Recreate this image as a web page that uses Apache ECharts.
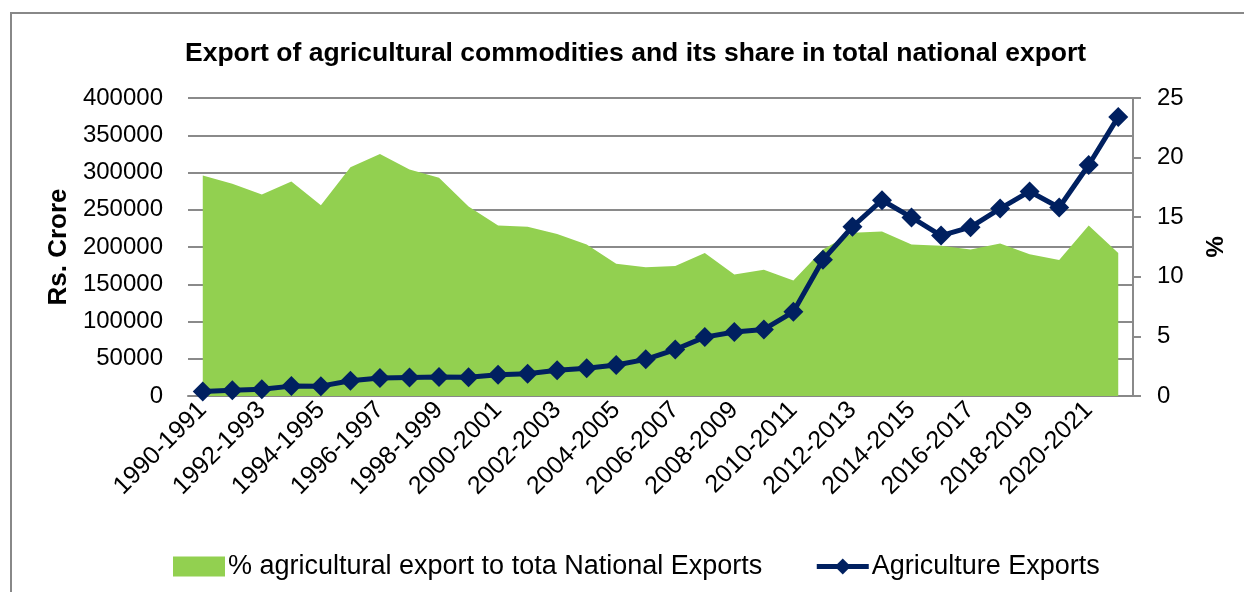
<!DOCTYPE html>
<html>
<head>
<meta charset="utf-8">
<script src="https://cdn.jsdelivr.net/npm/echarts@6/dist/echarts.min.js"></script>
<style>
  html, body { margin: 0; padding: 0; background: #fff; }
  #chart { width: 1244px; height: 592px; }
</style>
</head>
<body>
<div id="chart"></div>
<script>
// fiscal years
const years = [
  '1990-1991', '1991-1992', '1992-1993', '1993-1994', '1994-1995', '1995-1996',
  '1996-1997', '1997-1998', '1998-1999', '1999-2000', '2000-2001', '2001-2002',
  '2002-2003', '2003-2004', '2004-2005', '2005-2006', '2006-2007', '2007-2008',
  '2008-2009', '2009-2010', '2010-2011', '2011-2012', '2012-2013', '2013-2014',
  '2014-2015', '2015-2016', '2016-2017', '2017-2018', '2018-2019', '2019-2020',
  '2020-2021', '2021-2022'
]
// Rs. Crore
const agriExports = [
  6013, 7838, 9040, 13271, 13222, 20398, 24161, 24832, 25511, 25314, 28657, 29729,
  34654, 37266, 41603, 49217, 62411, 79040, 85951, 89341, 113047, 182801, 227192, 262779,
  239681, 215396, 226652, 251564, 274571, 252976, 310130, 374611
]
// % share in total national exports
const agriShare = [
  18.5, 17.8, 16.9, 18.0, 16.0, 19.2, 20.3, 19.0, 18.3, 15.9, 14.3, 14.2,
  13.6, 12.7, 11.1, 10.8, 10.9, 12.0, 10.2, 10.6, 9.7, 12.3, 13.7, 13.8,
  12.7, 12.6, 12.3, 12.8, 11.9, 11.4, 14.3, 12.0
]
const leftTicks = { min: 0, max: 400000, interval: 50000 }
const rightTicks = { min: 0, max: 25, interval: 5 }

const font = 'Liberation Sans, Arial, sans-serif'
const navy = '#002060'
const green = '#92d050'
const chart = echarts.init(document.getElementById('chart'))
chart.setOption({
  animation: false,
  textStyle: { fontFamily: font },
  title: {
    text: 'Export of agricultural commodities and its share in total national export',
    left: 180,
    top: 35,
    textStyle: { fontSize: 26.5, fontWeight: 'bold', color: '#000', fontFamily: font }
  },
  graphic: [{
    type: 'rect',
    shape: { x: 11, y: 13, width: 2000, height: 2000 },
    style: { fill: 'none', stroke: '#888', lineWidth: 2 },
    silent: true
  }],
  legend: {
    bottom: 12,
    left: 173,
    padding: 0,
    itemGap: 52,
    itemWidth: 52,
    itemHeight: 20,
    textStyle: { fontSize: 27, color: '#000', fontFamily: font, padding: [0, 0, 0, -2] },
    data: [
      { name: '% agricultural export to tota National Exports', icon: 'rect', itemStyle: { borderWidth: 0 } },
      { name: 'Agriculture Exports', lineStyle: { width: 5 } }
    ]
  },
  grid: { left: 188, right: 111, top: 98, bottom: 196 },
  xAxis: {
    type: 'category',
    data: years,
    boundaryGap: true,
    axisLine: { lineStyle: { color: '#888', width: 2 } },
    axisTick: { show: false },
    axisLabel: { interval: 1, rotate: 45, fontSize: 25, color: '#000', margin: 10 }
  },
  yAxis: [{
    type: 'value',
    min: leftTicks.min,
    max: leftTicks.max,
    interval: leftTicks.interval,
    name: 'Rs. Crore',
    nameLocation: 'middle',
    nameGap: 112,
    nameTextStyle: { fontSize: 26, fontWeight: 'bold', color: '#000' },
    axisLine: { show: false },
    axisTick: { show: false },
    splitLine: { lineStyle: { color: '#8a8a8a', width: 2 } },
    axisLabel: { fontSize: 24, color: '#000', margin: 25, formatter: v => String(v) }
  }, {
    type: 'value',
    position: 'right',
    min: rightTicks.min,
    max: rightTicks.max,
    interval: rightTicks.interval,
    name: '%',
    nameLocation: 'middle',
    nameRotate: -90,
    nameGap: 68,
    nameTextStyle: { fontSize: 24, fontWeight: 'bold', color: '#000' },
    axisLine: { show: true, lineStyle: { color: '#8a8a8a', width: 2 } },
    axisTick: { show: true, inside: false, length: 8, lineStyle: { color: '#8a8a8a', width: 2 } },
    splitLine: { show: false },
    axisLabel: { fontSize: 24, color: '#000', margin: 24 }
  }],
  series: [{
    name: '% agricultural export to tota National Exports',
    type: 'line',
    yAxisIndex: 1,
    data: agriShare,
    symbol: 'none',
    lineStyle: { width: 0 },
    itemStyle: { color: green },
    areaStyle: { color: green, opacity: 1 },
    z: 1
  }, {
    name: 'Agriculture Exports',
    type: 'line',
    yAxisIndex: 0,
    data: agriExports,
    symbol: 'diamond',
    symbolSize: 20,
    showAllSymbol: true,
    lineStyle: { color: navy, width: 5 },
    itemStyle: { color: navy },
    z: 3
  }]
})
</script>
</body>
</html>
